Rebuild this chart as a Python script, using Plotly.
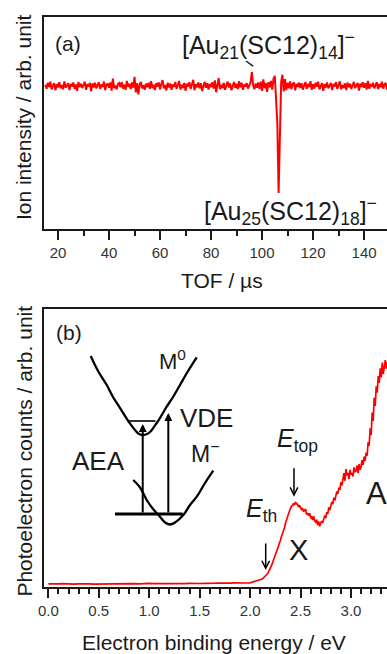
import plotly.graph_objects as go

FONT = "Arial, 'Liberation Sans', Helvetica, sans-serif"
RED = "#ff0000"
INK = "#1a1a1a"

# ---------------- Panel (a): TOF mass spectrum ----------------
tof_start = 15.0
tof_step = 0.5
ion_intensity = [
    12, -25, 30, -8, 41, -33, 5, 27, -40, 18, -12, 35, -22, 9, -30, 44, -15, 3, 26, -37,
    20, -6, 33, -28, 14, -45, 38, -10, 22, -19, 6, 40, -35, 17, -4, 29, -50, 25, -13, 31,
    -21, 8, 36, -27, 15, -9, 42, -38, 11, 24, -16, 34, -42, 70, -20, 5, -31, 19, 28, -11,
    37, -24, 13, -35, 48, -7, 21, -29, 33, -15, 85, -60, 26, -78, 16, 39, -23, 7, -34, 22,
    -10, 30, -26, 45, -19, 12, -38, 27, -5, 34, -30, 18, 55, -22, 9, -41, 31, -14, 24, -36,
    15, -8, 38, -25, 20, 47, -33, 11, -18, 29, -44, 23, -6, 36, -27, 14, 58, -39, 17, -12,
    33, -21, 26, -47, 10, 41, -16, 28, -32, 19, -9, 35, -24, 52, -58, 21, 75, -30, 12, -20,
    30, -35, 16, 43, -14, 25, -40, 8, 37, -18, 22, -28, 46, -11, 31, -36, 14, -5, 27, -23,
    18, 35, 130, 10, -30, 24, -15, 33, -26, 40, -45, 62, -20, 28, -55, 36, -12, 48, -34, 70,
    95, -80, -350, -1000, -300, 40, 105, -50, 64, -38, 30, -22, 44, -29, 17, 35, -41, 20, -8, 32,
    -19, 26, -33, 12, 38, -27, 21, -10, 45, -36, 16, -24, 30, -7, 41, -31, 9, 27, -45, 19,
    -14, 34, -22, 11, 29, -38, 20, -5, 37, -26, 15, 43, -30, 8, -18, 25, -37, 32, -12, 21,
    -28, 14, 39, -20, 6, 30, -42, 23, -9, 35, -16, 27, -33, 48, -25, 18, -6, 31, -21, 12,
    36, -29, 20, -11, 40, -24, 15, 28, -34,
]
tof = [round(tof_start + tof_step * i, 3) for i in range(len(ion_intensity))]
tof_ticks = [20, 40, 60, 80, 100, 120, 140]

# ---------------- Panel (b): photoelectron spectrum ----------------
be_coarse_start = 0.0
be_coarse_step = 0.05
pe_counts_coarse = [
    3.2, 2.9, 3.1, 3.3, 3.0, 2.8, 3.2, 3.4, 3.1, 2.9, 3.0, 3.3, 3.5, 3.2, 3.0, 3.4, 3.6, 3.3, 3.1, 3.5,
    3.7, 3.4, 3.2, 3.6, 3.3, 3.5, 3.8, 3.4, 3.6, 3.9, 3.5, 3.7, 3.4, 3.8, 4.0, 3.7, 3.9, 4.1, 3.8, 4.0,
]
be_fine_start = 2.0
be_fine_step = 0.01
pe_counts_fine = [
    4.2, 4.5, 4.4, 4.8, 5.0, 5.2, 5.6, 5.9, 6.1, 6.6,
    7.0, 7.4, 8.0, 8.9, 9.8, 10.5, 11.8, 13.0, 14.5, 16.4,
    18.6, 21.0, 23.3, 26.5, 29.0, 31.2, 34.8, 37.1, 40.5, 44.0,
    46.2, 50.3, 53.0, 57.1, 59.0, 63.5, 66.0, 70.2, 73.0, 75.8,
    78.5, 80.9, 81.4, 83.6, 82.1, 85.0, 83.2, 82.6, 80.0, 81.8,
    79.2, 77.5, 78.9, 75.1, 76.8, 77.9, 72.4, 74.0, 71.2, 73.8,
    69.5, 70.2, 67.0, 70.8, 66.1, 64.9, 67.4, 62.0, 65.5, 60.8,
    63.9, 66.0, 64.2, 68.8, 71.5, 69.0, 74.8, 73.1, 79.6, 76.9,
    82.2, 85.0, 83.0, 89.3, 86.5, 92.0, 95.6, 93.1, 99.4, 97.0,
    104.8, 101.5, 108.3, 113.9, 106.2, 118.0, 111.5, 114.2, 108.0, 117.1,
    112.4, 114.0, 110.5, 119.6, 114.9, 116.2, 121.5, 113.8, 123.0, 117.2,
    120.4, 126.8, 122.0, 130.4, 126.0, 134.5, 131.2, 145.0, 141.3, 158.6,
    152.0, 174.5, 166.0, 189.2, 181.0, 200.6, 194.4, 211.0, 204.2, 218.8,
    209.6, 224.5, 213.0, 220.2, 226.8, 218.4, 225.0,
]
be = [round(be_coarse_start + be_coarse_step * i, 3) for i in range(len(pe_counts_coarse))]
be += [round(be_fine_start + be_fine_step * i, 3) for i in range(len(pe_counts_fine))]
pe_counts = pe_counts_coarse + pe_counts_fine
be_ticks = [0.0, 0.5, 1.0, 1.5, 2.0, 2.5, 3.0]

# ---------------- Inset schematic (potential curves) ----------------
m0_curve_x = [0.420, 0.493, 0.579, 0.641, 0.711, 0.770, 0.810, 0.859, 0.899, 0.939,
              0.978, 1.018, 1.067, 1.107, 1.173, 1.236, 1.305, 1.385, 1.471]
m0_curve_y = [231, 216, 202, 190, 179, 169.5, 163.5, 157, 153, 152,
              153, 156, 163, 169, 180.3, 190, 202, 216, 229.7]
mminus_curve_x = [0.842, 0.909, 0.975, 1.038, 1.107, 1.157, 1.206, 1.256, 1.338, 1.404,
                  1.471, 1.553, 1.635]
mminus_curve_y = [107, 99.5, 87, 78, 70.3, 64.5, 62.5, 64.5, 72, 82, 90.3, 104, 116.3]
mminus_level_x = [0.661, 1.332]
mminus_level_y = [73, 73]
m0_level_x = [0.785, 1.062]
m0_level_y = [166, 166]

fig = go.Figure()
fig.add_trace(go.Scatter(x=tof, y=ion_intensity, mode="lines",
                         line=dict(color=RED, width=2.0), xaxis="x", yaxis="y",
                         showlegend=False, hoverinfo="skip"))
fig.add_trace(go.Scatter(x=be, y=pe_counts, mode="lines",
                         line=dict(color=RED, width=1.7), xaxis="x2", yaxis="y2",
                         showlegend=False, hoverinfo="skip"))
for cx, cy, w in [(m0_curve_x, m0_curve_y, 2.3), (mminus_curve_x, mminus_curve_y, 2.3),
                  (mminus_level_x, mminus_level_y, 3.2), (m0_level_x, m0_level_y, 1.6)]:
    fig.add_trace(go.Scatter(x=cx, y=cy, mode="lines", line=dict(color="black", width=w, shape="spline"),
                             xaxis="x2", yaxis="y2", showlegend=False, hoverinfo="skip"))

axis_common = dict(showline=True, linewidth=1.5, linecolor=INK, showgrid=False, zeroline=False)
fig.update_layout(
    width=387, height=654,
    margin=dict(l=44, r=0, t=17, b=67),
    paper_bgcolor="white", plot_bgcolor="white",
    font=dict(family=FONT, color=INK),
    xaxis=dict(domain=[0, 1], anchor="y", range=[14.5, 149.0], mirror=True,
               tickmode="array", tickvals=tof_ticks, ticks="outside", ticklen=9, tickwidth=1.5,
               tickcolor=INK, tickfont=dict(size=15, color="#333"),
               minor=dict(dtick=10, ticks="outside", ticklen=5, tickwidth=1.5, tickcolor=INK),
               **axis_common),
    yaxis=dict(domain=[0.628, 1.0], anchor="x", range=[-1336, 645], showticklabels=False,
               ticks="", **axis_common),
    xaxis2=dict(domain=[0, 1], anchor="y2", range=[-0.043, 3.357], mirror=True,
                tickmode="array", tickvals=be_ticks, ticktext=[f"{v:.1f}" for v in be_ticks],
                ticks="outside", ticklen=9, tickwidth=1.5, tickcolor=INK,
                tickfont=dict(size=15, color="#333"),
                minor=dict(dtick=0.1, tick0=0, ticks="outside", ticklen=5, tickwidth=1.5, tickcolor=INK),
                **axis_common),
    yaxis2=dict(domain=[0, 0.4877], anchor="x2", range=[0, 278], showticklabels=False,
                ticks="", **axis_common),
)

ann = []
def txt(text, x, y, size, xref="paper", yref="paper", **kw):
    d = dict(text=text, x=x, y=y, xref=xref, yref=yref, showarrow=False,
             font=dict(size=size, family=FONT, color=INK), xanchor="center", yanchor="middle")
    d.update(kw)
    ann.append(d)

# axis titles
txt("Ion intensity / arb. unit", -0.058, 0.8246, 21, textangle=-90)
txt("Photoelectron counts / arb. unit", -0.058, 0.2377, 21, textangle=-90)
txt("TOF / µs", 0.519, 0.538, 21)
txt("Electron binding energy / eV", 0.4956, -0.0965, 21)
# panel labels
txt("(a)", 0.0714, 0.954, 21)
txt("(b)", 0.0729, 0.4465, 21)
# panel (a) peak labels
txt("[Au<sub>21</sub>(SC12)<sub>14</sub>]<sup>−</sup>", 102.7, 388, 25, xref="x", yref="y")
txt("[Au<sub>25</sub>(SC12)<sub>18</sub>]<sup>−</sup>", 111.0, -1163, 25, xref="x", yref="y")
# panel (b) labels
txt("M<sup>0</sup>", 1.226, 227.5, 22, xref="x2", yref="y2")
txt("VDE", 1.563, 169, 26, xref="x2", yref="y2")
txt("AEA", 0.4955, 126, 26, xref="x2", yref="y2")
txt("M<sup>−</sup>", 1.561, 135.5, 23, xref="x2", yref="y2")
txt("<i>E</i><sub>top</sub>", 2.47, 147, 25, xref="x2", yref="y2")
txt("<i>E</i><sub>th</sub>", 2.113, 77, 25, xref="x2", yref="y2")
txt("X", 2.481, 37.5, 29, xref="x2", yref="y2")
txt("A", 3.13, 94, 31, xref="x2", yref="y2", xanchor="left")

def arrow(x, y_tip, y_tail, head, size, width):
    ann.append(dict(text="", x=x, y=y_tip, ax=x, ay=y_tail, xref="x2", yref="y2",
                    axref="x2", ayref="y2", showarrow=True, arrowhead=head,
                    arrowsize=size, arrowwidth=width, arrowcolor="black"))

arrow(0.9356, 163, 73, 2, 0.8, 2.0)   # AEA
arrow(1.1893, 174, 73, 2, 0.8, 2.0)   # VDE
arrow(2.435, 90.3, 120.3, 5, 1.0, 1.5)  # E_top
arrow(2.1546, 17, 45, 5, 1.0, 1.5)      # E_th

fig.update_layout(annotations=ann)
fig.add_shape(type="line", xref="x", yref="y", x0=93.7, y0=234, x1=96.5, y1=187,
              line=dict(color=INK, width=1.5))

fig.write_html("out.html", config={"displayModeBar": False},
               post_script="document.body.style.margin='0';document.body.style.overflow='hidden';")
